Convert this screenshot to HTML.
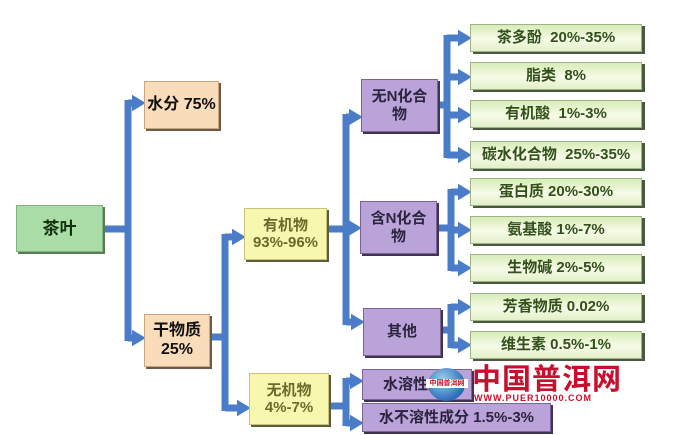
<!DOCTYPE html>
<html><head><meta charset="utf-8"><style>
body{margin:0;width:682px;height:435px;background:#fff;position:relative;overflow:hidden;font-family:"Liberation Sans","Noto Sans CJK SC",sans-serif;font-weight:bold}
.b{position:absolute;display:flex;align-items:center;justify-content:center;text-align:center;box-sizing:border-box;line-height:1.15}
.peach{background:#f9dcba;border:1px solid #c9a680;box-shadow:2px 2px 0 #6b5a48;color:#111;font-size:16px}
.yel{background:#f8f7b0;border:1px solid #c8c47a;box-shadow:2px 2px 0 #5e5c3c;color:#6c6a2a;font-size:15px}
.pur{background:#b9a3d9;border:1px solid #7a6496;box-shadow:2px 2px 0 #3e3350;color:#2d2440;font-size:15px}
.leaf{background:linear-gradient(180deg,#d8ecb8,#f6fbe8 55%,#e2f0c8);border:1px solid #9fb28a;box-shadow:3px 2px 0 #4b5840;color:#33501c;font-size:15px;left:470px;width:172px;height:28px}
</style></head><body>
<svg width="682" height="435" style="position:absolute;left:0;top:0">
<defs><marker id="a" markerWidth="2" markerHeight="2.4" refX="0.6" refY="1.2" orient="auto" markerUnits="strokeWidth"><path d="M0,0L2,1.2L0,2.4z" fill="#4a7cc8"/></marker></defs>
<g stroke="#4a7cc8" stroke-width="7" fill="none">
<path d="M103 229H128"/><path d="M128 100V341"/>
<path d="M128 103H136" marker-end="url(#a)"/><path d="M128 338H136" marker-end="url(#a)"/>
<path d="M210 337H225"/><path d="M225 234V411"/>
<path d="M225 237H236" marker-end="url(#a)"/><path d="M225 408H241" marker-end="url(#a)"/>
<path d="M327 229H346"/><path d="M346 114V325"/>
<path d="M346 117H353" marker-end="url(#a)"/><path d="M346 228H352" marker-end="url(#a)"/><path d="M346 322H355" marker-end="url(#a)"/>
<path d="M438 105H447"/><path d="M447 35V158"/>
<path d="M447 38H462" marker-end="url(#a)"/><path d="M447 77H462" marker-end="url(#a)"/><path d="M447 115H462" marker-end="url(#a)"/><path d="M447 155H462" marker-end="url(#a)"/>
<path d="M437 228H451"/><path d="M451 189V271"/>
<path d="M451 192H462" marker-end="url(#a)"/><path d="M451 230H462" marker-end="url(#a)"/><path d="M451 268H462" marker-end="url(#a)"/>
<path d="M441 330H451"/><path d="M451 304V348"/>
<path d="M451 307H462" marker-end="url(#a)"/><path d="M451 345H462" marker-end="url(#a)"/>
<path d="M329 406H346"/><path d="M346 378V426"/>
<path d="M346 381H354" marker-end="url(#a)"/><path d="M346 423H354" marker-end="url(#a)"/>
</g></svg>
<div class="b" style="left:16px;top:205px;width:87px;height:47px;background:#a9dca6;border:1px solid #7fb47c;box-shadow:2px 2px 0 #5a7a58;color:#13300f;font-size:17px">茶叶</div>
<div class="b peach" style="left:144px;top:81px;width:75px;height:48px">水分 75%</div>
<div class="b peach" style="left:144px;top:314px;width:66px;height:53px">干物质<br>25%</div>
<div class="b yel" style="left:244px;top:208px;width:83px;height:52px">有机物<br>93%-96%</div>
<div class="b yel" style="left:249px;top:373px;width:80px;height:52px">无机物<br>4%-7%</div>
<div class="b pur" style="left:361px;top:79px;width:77px;height:53px">无N化合<br>物</div>
<div class="b pur" style="left:360px;top:201px;width:77px;height:53px">含N化合<br>物</div>
<div class="b pur" style="left:363px;top:308px;width:78px;height:48px">其他</div>
<div class="b pur" style="left:362px;top:369px;width:110px;height:31px;justify-content:flex-start;padding-left:20px">水溶性成分</div>
<div class="b pur" style="left:362px;top:403px;width:189px;height:29px">水不溶性成分 1.5%-3%</div>
<div class="b leaf" style="top:24px">茶多酚&nbsp; 20%-35%</div>
<div class="b leaf" style="top:62px">脂类&nbsp; 8%</div>
<div class="b leaf" style="top:100px">有机酸&nbsp; 1%-3%</div>
<div class="b leaf" style="top:141px">碳水化合物&nbsp; 25%-35%</div>
<div class="b leaf" style="top:178px">蛋白质 20%-30%</div>
<div class="b leaf" style="top:216px">氨基酸 1%-7%</div>
<div class="b leaf" style="top:254px">生物碱 2%-5%</div>
<div class="b leaf" style="top:293px">芳香物质 0.02%</div>
<div class="b leaf" style="top:331px">维生素 0.5%-1%</div>
<div style="position:absolute;left:428px;top:368px;width:37px;height:33px;border-radius:50%;background:radial-gradient(circle at 40% 35%,#9fd0f0,#2a6cb8 70%);"></div>
<div style="position:absolute;left:426px;top:379px;width:42px;height:9px;background:#fff;color:#c8102e;font-size:7px;line-height:9px;text-align:center">中国普洱网</div>
<div style="position:absolute;left:472px;top:365px;font-size:29px;line-height:30px;color:#c8102e;letter-spacing:1px">中国普洱网</div>
<div style="position:absolute;left:474px;top:394px;font-size:9px;line-height:9px;color:#c8102e;letter-spacing:1px">WWW.PUER10000.COM</div>
</body></html>
